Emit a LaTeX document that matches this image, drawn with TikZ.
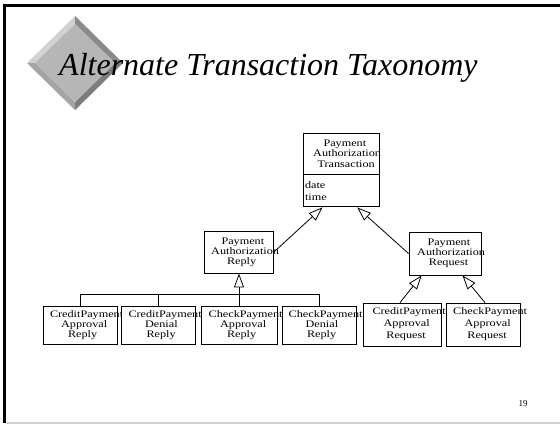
\documentclass[tikz,border=0pt]{standalone}
\usepackage{fontspec}
\setmainfont{Liberation Serif}
\newfontfamily\boxfont[FakeStretch=1.22]{Liberation Serif}
\usetikzlibrary{arrows.meta,calc}
\definecolor{faceGray}{HTML}{B6B6B6}
\definecolor{bevelLight}{HTML}{D2D2D2}
\definecolor{bevelMid}{HTML}{A4A4A4}
\definecolor{bevelDark}{HTML}{8A8A8A}
\definecolor{bevelDeep}{HTML}{7C7C7C}
\definecolor{edgeGray}{HTML}{CFCFCF}
% a label line: centred on its plain width, set in the wide face (runs on to the right)
\newlength\plainw
\newcommand\sline[1]{\settowidth\plainw{\rmfamily #1}\makebox[\plainw][l]{\boxfont #1}}
\newcommand\threelines[3]{\sline{#1}\\\sline{#2}\\\sline{#3}}
\tikzset{
  cls/.style={draw, fill=white, line width=0.9pt, inner sep=0pt, align=center,
              font=\fontsize{10}{10}\selectfont, text=black},
  attrs/.style={cls, align=left, text width=72pt, inner xsep=2pt,
                font=\boxfont\fontsize{10}{12}\selectfont},
  isa/.style={line width=0.8pt, -{Triangle[open, length=14pt, width=10pt, line width=0.8pt]}},
  link/.style={line width=0.8pt},
}
\begin{document}
\begin{tikzpicture}[x=1pt, y=-1pt]
\useasboundingbox (0,0) rectangle (560,424);
\fill[white] (0,0) rectangle (560,424);

% slide frame
\fill[black] (3,4) rectangle (6.2,423);
\fill[black] (3,4) rectangle (560,6.6);
\fill[edgeGray] (6,422) rectangle (560,424);

% bevelled diamond ornament
\coordinate (dT) at (75,16);  \coordinate (dR) at (123,63);
\coordinate (dB) at (75,110); \coordinate (dL) at (27,63);
\coordinate (iT) at (75,24);  \coordinate (iR) at (115,63);
\coordinate (iB) at (75,102); \coordinate (iL) at (35,63);
\fill[bevelLight] (dL) -- (dT) -- (iT) -- (iL) -- cycle;
\fill[bevelDark]  (dT) -- (dR) -- (iR) -- (iT) -- cycle;
\fill[bevelDeep]  (dR) -- (dB) -- (iB) -- (iR) -- cycle;
\fill[bevelMid]   (dB) -- (dL) -- (iL) -- (iB) -- cycle;
\fill[faceGray]   (iT) -- (iR) -- (iB) -- (iL) -- cycle;

% title
\node[anchor=base west, inner sep=0pt, font=\itshape\fontsize{32}{34}\selectfont]
  (title) at (59,75) {Alternate Transaction Taxonomy};

% root class with attribute compartment
\node[cls, minimum width=76pt, minimum height=41pt, font=\fontsize{10}{10.5}\selectfont]
  (ptx) at (341,153.5) {\threelines{Payment}{Authorization}{Transaction}};
\node[attrs, minimum width=76pt, minimum height=32pt, anchor=north] (ptxa) at (ptx.south)
  {date\\time};

% intermediate classes
\node[cls, minimum width=69pt, minimum height=42pt] (reply) at (239,252)
  {\threelines{Payment}{Authorization}{Reply}};
\node[cls, minimum width=72pt, minimum height=43pt] (request) at (445,253.5)
  {\threelines{Payment}{Authorization}{Request}};

% leaf classes (reply side)
\node[cls, minimum width=74pt, minimum height=38pt] (cpar) at (80,325)
  {\threelines{CreditPayment}{Approval}{Reply}};
\node[cls, minimum width=74pt, minimum height=38pt] (cpdr) at (158.5,325)
  {\threelines{CreditPayment}{Denial}{Reply}};
\node[cls, minimum width=76pt, minimum height=38pt] (kpar) at (239,325)
  {\threelines{CheckPayment}{Approval}{Reply}};
\node[cls, minimum width=74pt, minimum height=38pt] (kpdr) at (319,325)
  {\threelines{CheckPayment}{Denial}{Reply}};

% leaf classes (request side)
\node[cls, minimum width=78pt, minimum height=43pt, font=\fontsize{10}{12}\selectfont]
  (cpaq) at (402.5,324.5) {\threelines{CreditPayment}{Approval}{Request}};
\node[cls, minimum width=74pt, minimum height=43pt, font=\fontsize{10}{12}\selectfont]
  (kpaq) at (483.5,324.5) {\threelines{CheckPayment}{Approval}{Request}};

% generalisation tree under Reply
\coordinate (bus) at (0,294.3);
\draw[link] (cpar.north) |- (kpdr.north |- bus) -- (kpdr.north);
\draw[link] (cpdr.north) -- (cpdr.north |- bus);
\draw[isa] (kpar.north) -- (reply.south);

% generalisations to the root
\draw[isa] (reply.east) -- ($(ptxa.south west)!0.26!(ptxa.south east)$);
\draw[isa] (request.west) -- ($(ptxa.south west)!0.71!(ptxa.south east)$);

% generalisations to Request
\draw[isa] ([xshift=-2.5pt]cpaq.north) -- ($(request.south west)!0.18!(request.south east)$);
\draw[isa] ([xshift=1.5pt]kpaq.north) -- ($(request.south west)!0.74!(request.south east)$);

% page number
\node[font=\fontsize{9}{10}\selectfont, inner sep=0pt] (pageno) at (523,403.5) {19};
\end{tikzpicture}
\end{document}
